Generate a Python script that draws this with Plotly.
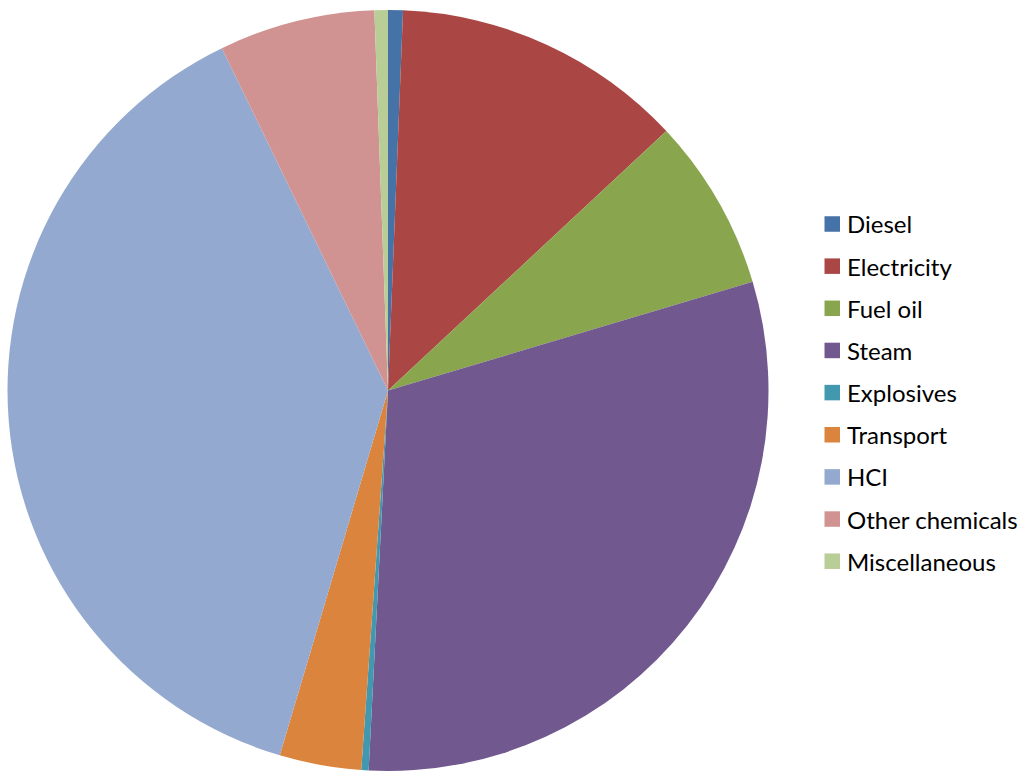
import plotly.graph_objects as go

labels = ["Diesel", "Electricity", "Fuel oil", "Steam", "Explosives",
          "Transport", "HCl", "Other chemicals", "Miscellaneous"]
values = [0.63, 12.43, 7.33, 30.42, 0.31, 3.47, 38.22, 6.62, 0.57]
colors = ["#4572A7", "#AA4643", "#89A54E", "#71588F", "#4198AF",
          "#DB843D", "#93A9CF", "#D19392", "#B9CD96"]
legend_text = ["Diesel", "Electricity", "Fuel oil", "Steam", "Explosives",
               "Transport", "HCI", "Other chemicals", "Miscellaneous"]

W, H = 1024, 777

fig = go.Figure(go.Pie(
    labels=labels, values=values, sort=False, direction="clockwise",
    rotation=0, textinfo="none", hoverinfo="label+percent",
    marker=dict(colors=colors, line=dict(width=0)),
    domain=dict(x=[7 / W, 769 / W], y=[(H - 771) / H, (H - 10) / H]),
    showlegend=False,
))

shapes = []
annotations = []
y0, step, sq = 224, 42.15, 15.5
for i, (name, c) in enumerate(zip(legend_text, colors)):
    yc = y0 + i * step
    shapes.append(dict(type="rect", xref="paper", yref="paper",
                       x0=824.5 / W, x1=(824.5 + sq) / W,
                       y0=1 - (yc + sq / 2) / H, y1=1 - (yc - sq / 2) / H,
                       fillcolor=c, line=dict(width=0)))
    annotations.append(dict(text=name, xref="paper", yref="paper",
                            x=845 / W, y=1 - yc / H, xanchor="left",
                            yanchor="middle", showarrow=False,
                            font=dict(family="Lato", size=24, color="#000000")))

fig.update_layout(width=W, height=H, margin=dict(l=0, r=0, t=0, b=0),
                  paper_bgcolor="white", plot_bgcolor="white",
                  shapes=shapes, annotations=annotations)
fig.write_html("out.html", config={"displayModeBar": False},
               post_script="document.body.style.margin='0';document.body.style.overflow='hidden';")
